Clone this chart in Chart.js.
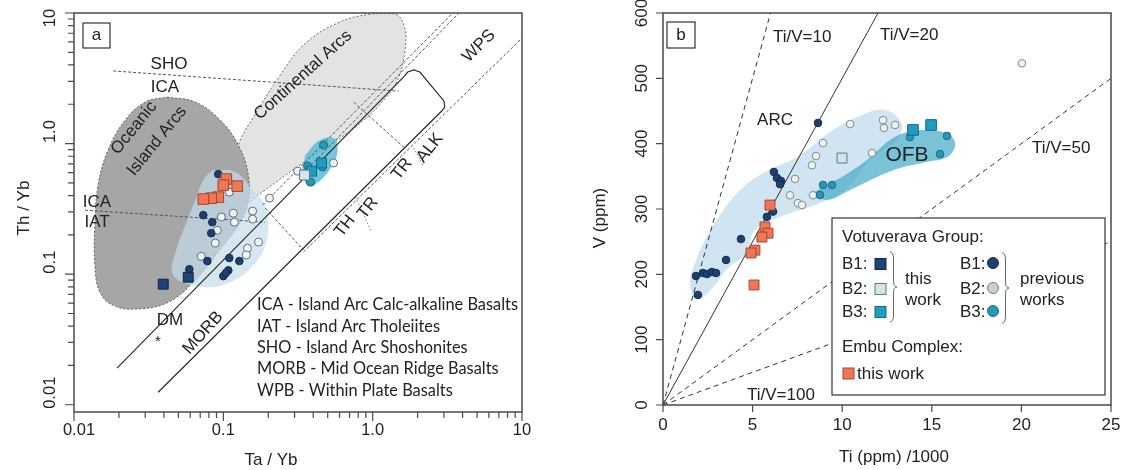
<!DOCTYPE html>
<html>
<head>
<meta charset="utf-8">
<title>Th/Yb vs Ta/Yb and V vs Ti</title>
<script src="https://cdn.jsdelivr.net/npm/chart.js@4.4.1/dist/chart.umd.min.js"></script>
<style>
  body { margin: 0; background: #fff; }
  #wrap { position: relative; width: 1124px; height: 470px; overflow: hidden; }
  canvas { position: absolute; top: 0; }
  #chartA { left: 0; }
  #chartB { left: 560px; }
</style>
</head>
<body>
<div id="wrap">
  <canvas id="chartA" width="560" height="470"></canvas>
  <canvas id="chartB" width="564" height="470"></canvas>
</div>
<script>
// ---------- panel a : Th/Yb vs Ta/Yb ----------
const aTickValues = [0.01, 0.1, 1, 10];
const aTickLabels = ['0.01', '0.1', '1.0', '10'];

// samples, [Ta/Yb, Th/Yb]
const aB1Prev = [[0.0925, 0.583], [0.0734, 0.283], [0.0843, 0.250], [0.083, 0.206], [0.0782, 0.126],
  [0.1096, 0.133], [0.128, 0.126], [0.108, 0.107], [0.100, 0.0966], [0.104, 0.102], [0.0592, 0.109]];
const aB2Prev = [[0.1096, 0.425], [0.097, 0.274], [0.1167, 0.293], [0.1186, 0.250], [0.157, 0.304],
  [0.157, 0.264], [0.0912, 0.217], [0.0883, 0.173], [0.0711, 0.137], [0.145, 0.158], [0.1425, 0.140],
  [0.172, 0.176], [0.204, 0.382], [0.314, 0.615], [0.547, 0.710]];
const aB3Prev = [[0.469, 0.975], [0.367, 0.673], [0.384, 0.507], [0.462, 0.661]];
const aB1This = [[0.0396, 0.0838], [0.0582, 0.0948]];
const aB2This = [[0.350, 0.574]];
const aB3This = [[0.390, 0.615], [0.455, 0.710]];
const aEmbu = [[0.1047, 0.535], [0.100, 0.481], [0.124, 0.472], [0.0925, 0.389], [0.083, 0.382], [0.0734, 0.376]];

// fields and reference lines
const aContArcs = [[0.1406, 0.338], [0.1167, 0.574], [0.126, 0.974], [0.159, 1.596], [0.241, 3.35], [0.344, 5.69],
  [0.582, 8.38], [0.970, 9.82], [1.426, 9.82], [1.64, 7.67], [1.64, 5.02], [1.47, 3.07], [1.186, 2.15],
  [0.871, 1.51], [0.582, 1.064], [0.427, 0.846], [0.304, 0.649], [0.191, 0.441]];
const aOceanicArcs = [[0.0421, 2.27], [0.0649, 2.08], [0.0955, 1.51], [0.126, 0.974], [0.147, 0.574],
  [0.145, 0.338], [0.126, 0.237], [0.0925, 0.148], [0.0649, 0.090], [0.0428, 0.061], [0.0257, 0.054],
  [0.0183, 0.0578], [0.0149, 0.0728], [0.0138, 0.117], [0.0138, 0.237], [0.0145, 0.481], [0.0169, 0.892],
  [0.0220, 1.51], [0.0300, 2.08]];
const aFieldPrev = [[0.0844, 0.627], [0.120, 0.605], [0.157, 0.441], [0.191, 0.338], [0.200, 0.237],
  [0.188, 0.158], [0.152, 0.111], [0.115, 0.0883], [0.0818, 0.0794], [0.0556, 0.0853], [0.0455, 0.102],
  [0.0484, 0.153], [0.0556, 0.237], [0.0649, 0.369], [0.0734, 0.525]];
const aFieldB3 = [[0.355, 0.817], [0.434, 1.045], [0.547, 1.10], [0.582, 0.892], [0.539, 0.684],
  [0.448, 0.525], [0.372, 0.472], [0.339, 0.605]];
const aArrayBand = [[0.0194, 0.01905], [1.614, 3.24], [1.718, 3.53], [1.884, 3.66], [2.07, 3.53],
  [3.0, 2.12], [3.04, 1.905], [2.90, 1.775], [0.0366, 0.01247]];
const aLineShoIca = [[0.0183, 3.60], [1.494, 2.52]];
const aLineIcaIat = [[0.01185, 0.309], [0.191, 0.250]];
const aLineThTr = [[0.191, 0.321], [0.344, 0.153]];
const aLineTrAlk = [[0.745, 2.08], [1.614, 0.940]];
const aSepThTr = [[0.769, 0.389], [0.970, 0.217]];
const aSepTrAlk = [[1.884, 0.924], [2.17, 0.684]];
const aLineWps = [[0.344, 0.148], [10, 6.43]];
const aLineArc1 = [[0.183, 0.338], [3.44, 10]];
const aLineArc2 = [[0.329, 0.564], [3.78, 10]];

const aKeyLines = ['ICA - Island Arc Calc-alkaline Basalts', 'IAT - Island Arc Tholeiites',
  'SHO - Island Arc Shoshonites', 'MORB - Mid Ocean Ridge Basalts', 'WPB - Within Plate Basalts'];

// ---------- panel b : V vs Ti/1000 ----------
const bTiTicks = [0, 5, 10, 15, 20, 25];
const bVTicks = [0, 100, 200, 300, 400, 500, 600];

// samples, [Ti/1000, V]
const bB1Prev = [[1.84, 197.5], [1.95, 168.4], [2.23, 202], [2.46, 200.5], [2.73, 203.6], [2.96, 202],
  [3.52, 222], [4.35, 254], [8.65, 431.7], [6.19, 356.7], [6.36, 347.5], [6.58, 343], [6.53, 338],
  [6.14, 296], [5.80, 288]];
const bB2Prev = [[10.44, 430], [12.28, 436], [12.33, 424], [12.95, 428.6], [8.93, 401], [8.54, 381],
  [8.31, 367], [11.66, 385.7], [7.37, 346], [7.09, 321], [7.53, 309], [7.76, 306], [8.37, 321], [20.03, 523]];
const bB3Prev = [[8.93, 336.8], [9.43, 336.8], [8.76, 321.4], [13.78, 410], [15.85, 411.8], [15.46, 384]];
const bB2This = [[9.99, 378]];
const bB3This = [[13.95, 421], [14.96, 428.6]];
const bEmbu = [[5.97, 306], [5.69, 272.5], [5.86, 263], [5.52, 257], [5.13, 237], [4.91, 232.7], [5.08, 183.7]];

const bFieldPrev = [[1.67, 163.8], [1.51, 191.3], [1.90, 225], [2.34, 252.6], [3.18, 290.8], [4.30, 329],
  [5.69, 356.7], [7.48, 379.6], [9.49, 421], [11.38, 447], [12.39, 451.6], [13.11, 439.3], [13.34, 421],
  [12.83, 401], [11.55, 375], [10.16, 329], [8.76, 309], [6.53, 287.8], [5.13, 267.9], [4.58, 229.6],
  [3.63, 209.7], [2.90, 183.7], [2.23, 165.3]];
const bFieldB3 = [[8.37, 324.5], [9.15, 313.8], [10.44, 329], [11.94, 349], [13.23, 362.8], [14.73, 372],
  [15.85, 379.6], [16.29, 395], [16.18, 408.7], [15.63, 417.9], [14.73, 421], [13.62, 417.9], [12.67, 405.6],
  [11.38, 375], [10.16, 352], [8.93, 333.7]];
const bTiV10 = [[0, 0], [6, 600]];
const bTiV20 = [[0, 0], [12, 600]];
const bTiV50 = [[0, 0], [25, 500]];
const bTiV100 = [[0, 0], [25, 250]];

// ---------- helpers ----------
const SANS = '"Liberation Sans", Arial, sans-serif';
const AXIS = '#4a4a4a';
const INK = '#222';

const xy = arr => arr.map(p => ({ x: p[0], y: p[1] }));
const loop = arr => xy(arr.concat([arr[0]]));

function points(data, style, radius, fill, stroke, order) {
  return {
    data: xy(data), pointStyle: style, pointRadius: radius,
    pointBackgroundColor: fill, pointBorderColor: stroke, pointBorderWidth: 1,
    backgroundColor: fill, borderColor: stroke, order: order || 1
  };
}

function field(data, fill, stroke, dash, order) {
  return {
    data: loop(data), showLine: true, fill: 'shape', tension: 0.4,
    backgroundColor: fill, borderColor: stroke || 'rgba(0,0,0,0)', borderWidth: 1,
    borderDash: dash || [], pointRadius: 0, order: order
  };
}

function line(data, dash, width, color, order) {
  return {
    data: xy(data), showLine: true, fill: false, tension: 0,
    borderColor: color || '#333', borderWidth: width || 1, borderDash: dash || [],
    pointRadius: 0, order: order || 8
  };
}

function text(ctx, s, x, y, rot, font, align) {
  ctx.save();
  ctx.translate(x, y);
  if (rot) ctx.rotate(rot * Math.PI / 180);
  ctx.font = font || '17px ' + SANS;
  ctx.fillStyle = INK;
  ctx.textAlign = align || 'center';
  ctx.textBaseline = 'middle';
  ctx.fillText(s, 0, 0);
  ctx.restore();
}

function minorLog(majors) {
  const out = [];
  for (let i = 0; i < majors.length - 1; i++) {
    for (let k = 2; k <= 9; k++) out.push(majors[i] * k);
  }
  return out;
}

function brace(ctx, x, y0, y1) {
  const m = (y0 + y1) / 2, w = 3.5;
  ctx.beginPath();
  ctx.moveTo(x, y0);
  ctx.quadraticCurveTo(x + w, y0, x + w, y0 + 7);
  ctx.lineTo(x + w, m - 6);
  ctx.quadraticCurveTo(x + w, m, x + 2 * w, m);
  ctx.quadraticCurveTo(x + w, m, x + w, m + 6);
  ctx.lineTo(x + w, y1 - 7);
  ctx.quadraticCurveTo(x + w, y1, x, y1);
  ctx.stroke();
}

function frame(ctx, ca) {
  ctx.strokeStyle = AXIS;
  ctx.lineWidth = 1.5;
  ctx.strokeRect(ca.left, ca.top, ca.right - ca.left, ca.bottom - ca.top);
}

const baseOptions = {
  responsive: false,
  animation: false,
  events: [],
  plugins: { legend: { display: false }, tooltip: { enabled: false } }
};

function hiddenAxis(extra) {
  return Object.assign({
    ticks: { display: false },
    grid: { display: false },
    border: { display: false },
    title: { display: false }
  }, extra);
}

// ---------- panel a decorations ----------
const decorA = {
  id: 'decorA',
  afterDatasetsDraw(chart) {
    const ctx = chart.ctx, ca = chart.chartArea;
    const xs = chart.scales.x, ys = chart.scales.y;
    ctx.save();
    frame(ctx, ca);

    // ticks
    ctx.lineWidth = 1.2;
    ctx.beginPath();
    minorLog(aTickValues).forEach(v => {
      const px = xs.getPixelForValue(v);
      ctx.moveTo(px, ca.bottom); ctx.lineTo(px, ca.bottom + 6);
      const py = ys.getPixelForValue(v);
      ctx.moveTo(ca.left, py); ctx.lineTo(ca.left - 6, py);
    });
    aTickValues.forEach(v => {
      const px = xs.getPixelForValue(v);
      ctx.moveTo(px, ca.bottom); ctx.lineTo(px, ca.bottom + 9);
      const py = ys.getPixelForValue(v);
      ctx.moveTo(ca.left, py); ctx.lineTo(ca.left - 9, py);
    });
    ctx.stroke();

    const tickFont = '16.5px ' + SANS;
    aTickValues.forEach((v, i) => {
      const px = Math.max(xs.getPixelForValue(v), ca.left + 5);
      text(ctx, aTickLabels[i], px, 430, 0, tickFont);
      const py = Math.max(ys.getPixelForValue(v) - 12, ca.top + 5);
      text(ctx, aTickLabels[i], 50, py, -90, tickFont);
    });

    text(ctx, 'Th / Yb', 24, 208, -90);
    text(ctx, 'Ta / Yb', 271, 460, 0);

    // panel letter
    ctx.strokeStyle = '#333';
    ctx.lineWidth = 1.2;
    ctx.strokeRect(83, 23, 27, 25);
    text(ctx, 'a', 96.5, 35, 0);

    const notes = [
      ['SHO', 169, 64, 0], ['ICA', 165, 87, 0],
      ['ICA', 97, 202, 0], ['IAT', 97, 222, 0],
      ['Oceanic', 134, 128, -51], ['Island Arcs', 157, 141, -51],
      ['Continental Arcs', 303, 75, -42],
      ['WPS', 479, 46, -45],
      ['TR', 402, 169, -52], ['ALK', 430, 148, -52],
      ['TH', 345, 226, -52], ['TR', 368, 208, -52],
      ['DM', 170, 320, 0], ['MORB', 203, 333, -48]
    ];
    notes.forEach(n => text(ctx, n[0], n[1], n[2], n[3]));
    text(ctx, '*', 158, 342, 0, '15px ' + SANS);

    // key text, fitted to the width of the first line
    ctx.font = '17px Lato, "Open Sans", sans-serif';
    const sx = 261 / ctx.measureText(aKeyLines[0]).width;
    aKeyLines.forEach((s, i) => {
      ctx.save();
      ctx.translate(257, 305 + i * 21.3);
      ctx.scale(sx, 1);
      ctx.fillStyle = INK;
      ctx.textAlign = 'left';
      ctx.textBaseline = 'middle';
      ctx.fillText(s, 0, 0);
      ctx.restore();
    });
    ctx.restore();
  }
};

// ---------- panel b decorations ----------
const OFFSET_B = 560;
const decorB = {
  id: 'decorB',
  afterDatasetsDraw(chart) {
    const ctx = chart.ctx, ca = chart.chartArea;
    const xs = chart.scales.x, ys = chart.scales.y;
    ctx.save();

    // key box first (lines run under it)
    ctx.translate(-OFFSET_B, 0);
    ctx.fillStyle = '#fff';
    ctx.fillRect(832, 218, 273, 177);
    ctx.strokeStyle = '#333';
    ctx.lineWidth = 1.2;
    ctx.strokeRect(832, 218, 273, 177);
    ctx.translate(OFFSET_B, 0);

    frame(ctx, ca);
    ctx.lineWidth = 1.2;
    ctx.beginPath();
    bTiTicks.forEach(v => {
      const px = xs.getPixelForValue(v);
      ctx.moveTo(px, ca.bottom); ctx.lineTo(px, ca.bottom + 7);
    });
    bVTicks.forEach(v => {
      const py = ys.getPixelForValue(v);
      ctx.moveTo(ca.left, py); ctx.lineTo(ca.left - 7, py);
    });
    ctx.stroke();
    const tickFont = '17px ' + SANS;
    bTiTicks.forEach(v => text(ctx, String(v), xs.getPixelForValue(v), 425, 0, tickFont));
    bVTicks.forEach(v => text(ctx, String(v), 82, ys.getPixelForValue(v), -90, tickFont));

    ctx.translate(-OFFSET_B, 0);
    text(ctx, 'V (ppm)', 600, 218, -90);
    text(ctx, 'Ti (ppm) /1000', 894, 457, 0);

    ctx.strokeStyle = '#333';
    ctx.lineWidth = 1.2;
    ctx.strokeRect(667, 22, 28, 26);
    text(ctx, 'b', 681, 35, 0);

    text(ctx, 'Ti/V=10', 773, 37, 0, null, 'left');
    text(ctx, 'Ti/V=20', 880, 35, 0, null, 'left');
    text(ctx, 'ARC', 775, 120, 0);
    text(ctx, 'OFB', 907, 155, 0, '21px ' + SANS);
    text(ctx, 'Ti/V=50', 1032, 148, 0, null, 'left');
    text(ctx, 'Ti/V=100', 747, 395, 0, null, 'left');

    // key contents
    const kf = '17px ' + SANS;
    text(ctx, 'Votuverava Group:', 842, 237, 0, kf, 'left');
    const rows = [264, 289, 312];
    const sq = ['#1d4377', '#d3e4ea', '#1f9cc0'];
    const sqEdge = ['#0e2444', '#5a7a86', '#0f6a86'];
    const dot = ['#1f3f6f', '#c5d1d6', '#2a96b6'];
    const dotEdge = ['#132a4d', '#6f7f86', '#1b6a82'];
    ['B1:', 'B2:', 'B3:'].forEach((s, i) => {
      text(ctx, s, 842, rows[i], 0, kf, 'left');
      text(ctx, s, 960, rows[i], 0, kf, 'left');
      ctx.fillStyle = sq[i]; ctx.strokeStyle = sqEdge[i]; ctx.lineWidth = 1;
      ctx.fillRect(875, rows[i] - 5.5, 11, 11);
      ctx.strokeRect(875, rows[i] - 5.5, 11, 11);
      ctx.beginPath();
      ctx.arc(993, rows[i] - 1, 5.5, 0, Math.PI * 2);
      ctx.fillStyle = dot[i]; ctx.fill();
      ctx.strokeStyle = dotEdge[i]; ctx.stroke();
    });
    ctx.strokeStyle = '#666';
    ctx.lineWidth = 1;
    brace(ctx, 890, 252, 322);
    brace(ctx, 1002, 253, 323);
    text(ctx, 'this', 905, 279, 0, kf, 'left');
    text(ctx, 'work', 905, 300, 0, kf, 'left');
    text(ctx, 'previous', 1020, 279, 0, kf, 'left');
    text(ctx, 'works', 1020, 300, 0, kf, 'left');
    text(ctx, 'Embu Complex:', 842, 347, 0, kf, 'left');
    ctx.fillStyle = '#f07656'; ctx.strokeStyle = '#9e4a34';
    ctx.fillRect(843, 368, 11, 11);
    ctx.strokeRect(843, 368, 11, 11);
    text(ctx, 'this work', 857, 374, 0, kf, 'left');
    ctx.restore();
  }
};

// ---------- charts ----------
new Chart(document.getElementById('chartA'), {
  type: 'scatter',
  data: {
    datasets: [
      field(aContArcs, '#e3e3e3', '#6d6d6d', [2, 2], 30),
      field(aOceanicArcs, '#a6a6a6', '#5f5f5f', [2, 2], 29),
      field(aFieldPrev, 'rgba(198, 221, 236, 0.7)', null, null, 28),
      field(aFieldB3, 'rgba(80, 186, 212, 0.82)', null, null, 27),
      line(aArrayBand, [], 1.2, '#2b2b2b'),
      line(aLineShoIca, [3, 2], 1, '#555'),
      line(aLineIcaIat, [3, 2], 1, '#555'),
      line(aLineThTr, [3, 2], 1, '#555'),
      line(aLineTrAlk, [3, 2], 1, '#555'),
      line(aSepThTr, [1.5, 2], 1, '#777'),
      line(aSepTrAlk, [1.5, 2], 1, '#777'),
      line(aLineWps, [3, 2], 1, '#555'),
      line(aLineArc1, [3, 2], 1, '#555'),
      line(aLineArc2, [3, 2], 1, '#555'),
      points(aB2Prev, 'circle', 4, '#eef4f7', '#5f6e75', 4),
      points(aB1Prev, 'circle', 3.8, '#1f3f6f', '#132a4d', 3),
      points(aB3Prev, 'circle', 4, '#2c96b4', '#1b6a82', 3),
      points(aEmbu, 'rect', 7.5, '#f07656', '#9e4a34', 2),
      points(aB1This, 'rect', 7, '#1d4377', '#0e2444', 1),
      points(aB2This, 'rect', 7, '#d3e6ec', '#5a7a86', 1),
      points(aB3This, 'rect', 7, '#1f9cc0', '#0f6a86', 1)
    ]
  },
  options: Object.assign({}, baseOptions, {
    layout: { padding: { left: 0, top: 13, right: 38, bottom: 0 } },
    scales: {
      x: hiddenAxis({ type: 'logarithmic', min: 0.01, max: 10, afterFit: s => { s.height = 58; } }),
      y: hiddenAxis({ type: 'logarithmic', min: 0.0088, max: 10, afterFit: s => { s.width = 74; } })
    }
  }),
  plugins: [decorA]
});

new Chart(document.getElementById('chartB'), {
  type: 'scatter',
  data: {
    datasets: [
      field(bFieldPrev, 'rgba(196, 223, 238, 0.8)', null, null, 30),
      field(bFieldB3, 'rgba(70, 170, 200, 0.72)', null, null, 29),
      line(bTiV10, [5, 4], 1, '#333'),
      line(bTiV20, [], 1, '#333'),
      line(bTiV50, [5, 4], 1, '#333'),
      line(bTiV100, [5, 4], 1, '#333'),
      points(bB2Prev, 'circle', 3.8, '#eef2f3', '#7b898e', 4),
      points(bB1Prev, 'circle', 3.8, '#1f3f6f', '#132a4d', 3),
      points(bB3Prev, 'circle', 3.8, '#2a96b6', '#1b6a82', 3),
      points(bEmbu, 'rect', 7, '#f07656', '#9e4a34', 2),
      points(bB2This, 'rect', 7, '#d3e6ec', '#5a7a86', 1),
      points(bB3This, 'rect', 7.5, '#1f9cc0', '#0f6a86', 1)
    ]
  },
  options: Object.assign({}, baseOptions, {
    layout: { padding: { left: 0, top: 13, right: 13, bottom: 0 } },
    scales: {
      x: hiddenAxis({ type: 'linear', min: 0, max: 25, afterFit: s => { s.height = 65; } }),
      y: hiddenAxis({ type: 'linear', min: 0, max: 600, afterFit: s => { s.width = 103; } })
    }
  }),
  plugins: [decorB]
});
</script>
</body>
</html>
